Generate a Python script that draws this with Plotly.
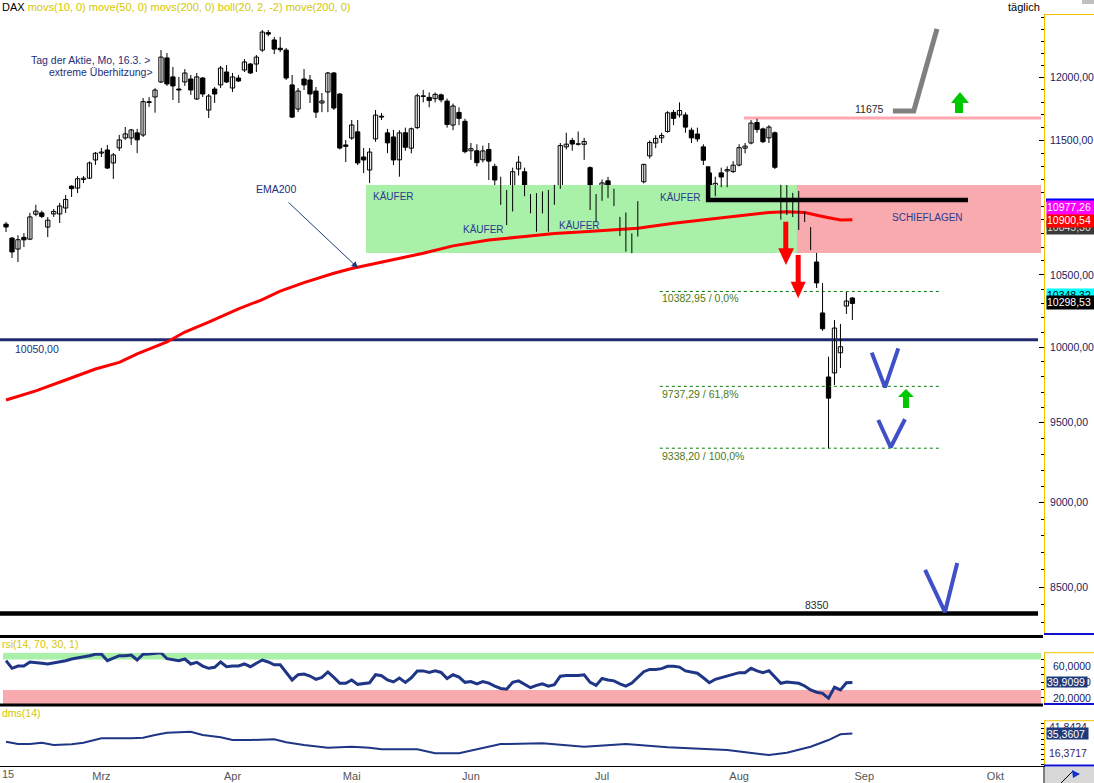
import math
import pandas as pd
import plotly.graph_objects as go

W, H = 1094, 783

# ---------------- data ----------------
HOLIDAYS = {"2015-04-03", "2015-04-06", "2015-05-01"}
calendar = [d.strftime("%Y-%m-%d") for d in pd.bdate_range("2015-02-06", "2015-10-30")
            if d.strftime("%Y-%m-%d") not in HOLIDAYS]

open_ = [10867, 10765, 10685, 10770, 10757, 10940, 10950, 10845, 10942, 10942, 10986, 11150, 11135, 11200, 11210, 11349,
         11402, 11426, 11326, 11442, 11519, 11519, 11559, 11542, 11805, 11843, 11964, 12160, 12005, 11907, 11964, 11988,
         11827, 11996, 11739, 11907, 11940, 12045, 11915, 11996, 12061, 12110, 12110, 12225, 12370, 12309, 12240, 12225,
         11940, 11747, 11988, 11980, 11891, 11795, 11883, 12037, 11867, 11465, 11519, 11567, 11372, 11272, 11512, 11690,
         11559, 11527, 11350, 11560, 11440, 11600, 11850, 11840, 11830, 11860, 11810, 11620, 11720, 11650, 11420, 11420,
         11350, 11430, 11300, 11136, 11030, 10981, 11280, 11259, 11053, 10921, 11074, 10946, 11110, 11142, 11450, 11500,
         11470, 11470, 11290, 11063, 11063, 11190, 11090, 10824, 10921, 10720, 10800, 11183, 11380, 11480, 11520, 11570,
         11720, 11700, 11700, 11580, 11550, 11450, 11250, 11131, 11250, 11265, 11260, 11310, 11440, 11480, 11640, 11590,
         11520, 11560, 11151, 11099, 11008, 11031, 10925, 10824, 10592, 10233, 9799, 9826, 9961, 10281, 10337]
high = [10882, 10772, 10786, 10801, 10950, 11010, 10966, 10919, 10979, 11024, 11083, 11157, 11225, 11225, 11338, 11410,
        11441, 11465, 11403, 11543, 11605, 11590, 11590, 11835, 11842, 11914, 12225, 12201, 12086, 12005, 12069, 12021,
        12037, 12005, 11867, 11923, 12094, 12102, 12037, 12021, 12151, 12118, 12184, 12392, 12392, 12334, 12334, 12242,
        12021, 11915, 12069, 12021, 11923, 11875, 12045, 12045, 11875, 11504, 11660, 11660, 11441, 11441, 11739, 11715,
        11590, 11582, 11580, 11600, 11600, 11870, 11900, 11880, 11880, 11870, 11830, 11790, 11760, 11670, 11480, 11470,
        11460, 11480, 11320, 11221, 11121, 11290, 11380, 11290, 11090, 11097, 11110, 11121, 11160, 11480, 11560, 11520,
        11570, 11520, 11300, 11090, 11200, 11220, 11130, 10920, 10953, 10800, 11037, 11320, 11500, 11540, 11560, 11730,
        11740, 11800, 11720, 11600, 11600, 11470, 11260, 11221, 11290, 11300, 11340, 11470, 11480, 11660, 11670, 11600,
        11620, 11570, 11160, 11158, 11099, 11113, 10960, 10845, 10657, 10443, 9935, 10184, 10157, 10379, 10344]
low = [10809, 10621, 10592, 10700, 10750, 10925, 10911, 10772, 10920, 10875, 10949, 11068, 11098, 11173, 11205, 11311,
       11372, 11280, 11204, 11418, 11504, 11465, 11402, 11527, 11764, 11718, 11955, 11932, 11819, 11795, 11932, 11860,
       11819, 11843, 11676, 11795, 11915, 11956, 11883, 11964, 12045, 12029, 12045, 12210, 12340, 12192, 12208, 11980,
       11676, 11722, 11899, 11795, 11676, 11722, 11722, 11739, 11430, 11333, 11504, 11310, 11249, 11173, 11489, 11660,
       11402, 11310, 11221, 11420, 11400, 11590, 11800, 11760, 11800, 11800, 11600, 11580, 11620, 11400, 11350, 11300,
       11330, 11196, 11158, 11010, 10860, 10960, 11230, 11074, 10947, 10811, 10946, 10811, 11010, 11130, 11430, 11420,
       11460, 11350, 10971, 10880, 11040, 11060, 11000, 10780, 10666, 10655, 10776, 11170, 11360, 11440, 11480, 11560,
       11620, 11680, 11560, 11480, 11490, 11310, 11040, 11074, 11142, 11142, 11250, 11300, 11400, 11470, 11560, 11480,
       11480, 11280, 10900, 10934, 10919, 10824, 10882, 10678, 10407, 10110, 9338, 9746, 9859, 10226, 10184]
close = [10846, 10664, 10753, 10752, 10920, 10963, 10924, 10896, 10961, 11001, 11050, 11131, 11206, 11210, 11326, 11401,
         11410, 11287, 11388, 11504, 11551, 11582, 11505, 11806, 11799, 11899, 12167, 11948, 11932, 11899, 12037, 11899,
         12005, 11867, 11851, 11867, 12077, 11964, 12005, 11972, 12127, 12037, 12167, 12375, 12358, 12233, 12228, 11996,
         11683, 11891, 11940, 11867, 11722, 11811, 12037, 11755, 11441, 11454, 11621, 11326, 11349, 11410, 11699, 11683,
         11481, 11349, 11559, 11447, 11591, 11853, 11848, 11815, 11864, 11820, 11625, 11771, 11673, 11413, 11436, 11328,
         11419, 11340, 11196, 11074, 11017, 11259, 11332, 11136, 10994, 11046, 10988, 11097, 11040, 11460, 11471, 11472,
         11473, 11492, 11083, 10912, 11174, 11106, 11075, 10885, 10678, 10751, 10991, 11315, 11484, 11516, 11539, 11717,
         11673, 11735, 11604, 11520, 11512, 11347, 11057, 11171, 11219, 11275, 11309, 11444, 11456, 11636, 11585, 11490,
         11604, 11293, 10934, 11023, 10993, 10949, 10915, 10693, 10443, 10124, 9660, 10129, 10002, 10316, 10299]
dates = calendar[:len(close)]

month_starts = ["2015-03-02", "2015-04-01", "2015-05-04", "2015-06-01",
                "2015-07-01", "2015-08-03", "2015-09-01", "2015-10-01"]
month_labels = ["Mrz", "Apr", "Mai", "Jun", "Jul", "Aug", "Sep", "Okt"]

# EMA200 read at selected trading days (index into dates)
ema_day = [0, 5, 10, 15, 19, 22, 27, 30, 34, 39, 43, 46, 50, 55, 58, 62, 66, 70, 75, 81, 87, 92, 97, 103,
           106, 112, 118, 123, 128, 131, 134, 137, 140, 142]
ema200 = [9648, 9707, 9779, 9852, 9896, 9953, 10034, 10102, 10169, 10262, 10326, 10385, 10445, 10512, 10546,
          10582, 10618, 10655, 10708, 10751, 10776, 10798, 10811, 10829, 10836, 10873, 10902, 10928, 10953,
          10958, 10952, 10923, 10897, 10900]

rsi14 = [68.4, 58.4, 61.4, 61.4, 66.7, 66.3, 65.0, 64.1, 65.4, 66.7, 68.4, 70.6, 71.9, 72.9, 75.0, 76.8,
         77.2, 68.4, 71.5, 75.0, 75.0, 75.9, 69.3, 76.8, 77.2, 78.1, 78.9, 71.0, 69.3, 68.4, 70.6, 64.1,
         66.3, 61.4, 58.4, 59.7, 66.7, 60.5,
         61.4, 61.4, 64.1, 60.5, 65.0, 69.3, 66.7, 63.1, 63.1, 53.6, 43.1, 50.0, 51.0, 48.3, 44.0, 46.6,
         53.6, 46.6, 38.8, 38.8,
         43.1, 37.4, 38.8, 39.5, 50.0, 48.7, 43.1, 40.5, 45.7, 40, 46, 55, 55, 53, 55, 53, 45, 50, 47, 40,
         41, 38, 41, 39, 35, 32, 31, 40, 42, 38, 33, 36, 38, 35, 37, 48, 49, 49, 49, 50, 40, 36,
         45, 43, 42, 38, 35, 39, 47, 54, 57, 57, 58, 61, 61, 60, 55, 53, 52, 46, 39.5, 44, 46, 48, 50,
         52.7, 52.7, 58.4, 55, 52.7, 55.3, 47, 38.8, 40.5, 39.5, 38.8, 35.2, 30, 27, 25.6, 19.1, 33.5, 30,
         39.5, 39.9]

dms_day = [0, 2, 4, 6, 8, 11, 13, 15, 16, 21, 23, 25, 27, 31, 33, 36, 38, 41, 45, 47, 50, 54, 58, 61, 63,
           66, 69, 72, 76, 83, 90, 97, 104, 111, 121, 128, 131, 135, 138, 140, 142]
dms14 = [27.4, 25.1, 25.1, 26.4, 24.2, 24.9, 26.4, 29.7, 30.7, 30.7, 31.3, 33.9, 36.2, 37.1, 33.9, 31.7,
         29.0, 29.0, 29.7, 26.8, 24.2, 21.5, 22.5, 21.5, 20.0, 20.0, 20.0, 16.1, 16.1, 25.1, 25.8, 22.5,
         25.1, 21.9, 19.3, 14.4, 16.7, 22.5, 29.0, 34.6, 35.36]

price_ticks = [8500, 9000, 9500, 10000, 10500, 11000, 11500, 12000]
# the 11000 label is hidden behind the value tags in the original
price_tick_text = ["8500,00", "9000,00", "9500,00", "10000,00", "10500,00", "", "11500,00", "12000,00"]
minor_price_ticks = list(range(8300, 12600, 100))

level_support = 10050
level_bottom = 8350
level_target = 11675
fib_levels = [10382.95, 9737.29, 9338.20]
fib_text = ["10382,95 / 0,0%", "9737,29 / 61,8%", "9338,20 / 100,0%"]

# ---------------- helpers ----------------
pos = {d: i for i, d in enumerate(calendar)}
xi = [pos[d] for d in dates]
month_pos = [pos[d] for d in month_starts]

X0, X1 = -1.013, 174.155          # visible index range
YMIN, YMAX = 3.915668, 4.097848   # log10 price range

NAVY = "#1e2e78"
YEL = "#d6c600"

fig = go.Figure()


def line(xs, ys, color, width, dash=None, yaxis="y", shape="linear"):
    fig.add_trace(go.Scatter(x=xs, y=ys, mode="lines", yaxis=yaxis, hoverinfo="skip",
                             line=dict(color=color, width=width, dash=dash, shape=shape)))


def poly(xs, ys, color):
    fig.add_trace(go.Scatter(x=xs + [xs[0]], y=ys + [ys[0]], mode="lines", fill="toself",
                             fillcolor=color, line=dict(width=0, color=color), hoverinfo="skip"))


# zones
poly([60.40, 132.71, 132.71, 60.40], [10657, 10657, 11158, 11158], "#a9f0a9")
poly([132.71, 173.65, 173.65, 132.71], [10657, 10657, 11158, 11158], "#f9aaae")

# horizontal levels
line([X0, 173.15], [level_support, level_support], "#1f2a70", 3)
line([123.8, 173.65], [level_target, level_target], "#ffa8b0", 3)
line([X0, 173.15], [level_bottom, level_bottom], "#000000", 4.5)
for lv in fib_levels:
    line([109.7, 157.0], [lv, lv], "#0a7a0a", 1, dash="dot")

# EMA200
line([xi[k] for k in ema_day], ema200, "#ff0000", 3)

# candles: wicks
wx, wy = [], []
for x, h, l in zip(xi, high, low):
    wx += [x, x, None]
    wy += [l, h, None]
line(wx, wy, "#000000", 1)

# candles: bodies
ux, ub, uh, dx, db, dh = [], [], [], [], [], []
for x, o, c in zip(xi, open_, close):
    if c >= o:
        ux.append(x); ub.append(o); uh.append(max(c - o, 4))
    else:
        dx.append(x); db.append(c); dh.append(max(o - c, 4))
fig.add_trace(go.Bar(x=ux, y=uh, base=ub, width=0.72, hoverinfo="skip",
                     marker=dict(color="white", line=dict(color="black", width=1))))
fig.add_trace(go.Bar(x=dx, y=dh, base=db, width=0.72, hoverinfo="skip",
                     marker=dict(color="black", line=dict(color="black", width=1))))

# black bracket and grey target path
line([117.8, 117.8, 161.4], [11300, 11045, 11045], "#000000", 4.5)
line([148.8, 152.3, 156.2], [11731, 11731, 12401], "#808080", 5)

# red down arrows
poly([130.41, 131.25, 131.25, 132.20, 130.86, 129.57, 130.41],
     [10885, 10885, 10691, 10691, 10570, 10691, 10691], "#ff0000")
poly([132.49, 133.33, 133.33, 134.17, 132.91, 131.65, 132.49],
     [10642, 10642, 10452, 10452, 10335, 10452, 10452], "#ff0000")
# green up arrows
poly([160.06, 161.57, 160.56, 160.56, 159.22, 159.22, 158.55],
     [11883, 11795, 11795, 11715, 11715, 11795, 11795], "#00c800")
poly([150.99, 152.33, 151.50, 151.50, 150.49, 150.49, 149.65],
     [9720, 9667, 9667, 9596, 9596, 9667, 9667], "#00c800")
# blue V marks
VBLUE = "#4050c8"
line([145.25, 147.48, 149.71], [9962, 9731, 9991], VBLUE, 4)
line([146.35, 148.43, 150.83], [9518, 9344, 9523], VBLUE, 4)
line([154.2, 157.54, 159.6], [8600, 8358, 8640], VBLUE, 4)

# RSI and DMS
line(xi, rsi14, "#1f3585", 3, yaxis="y2")
line([xi[k] for k in dms_day], dms14, "#1f3585", 2, yaxis="y3")


# ---------------- annotations ----------------
def P(px, py):
    return px / W, 1 - py / H


anns = []


def text(t, px, py, xanchor="left", color=NAVY, size=10.5, **kw):
    x, y = P(px, py)
    d = dict(x=x, y=y, xref="paper", yref="paper", text=t, showarrow=False, xanchor=xanchor,
             yanchor="middle", font=dict(color=color, size=size,
                                         family="Liberation Sans, Arial, sans-serif"))
    d.update(kw)
    anns.append(d)


def tag(t, py, bg, fg, px=1046, w=48, h=12.5, size=10.5):
    x, y = P(px, py)
    anns.append(dict(x=x, y=y, xref="paper", yref="paper", text=t, showarrow=False, xanchor="left",
                     yanchor="middle", width=w, height=h, align="left", bgcolor=bg, borderpad=0,
                     font=dict(color=fg, size=size, family="Liberation Sans, Arial, sans-serif")))


text('<span style="color:#000000">DAX</span> movs(10, 0) move(50, 0) movs(200, 0) boll(20, 2, -2) move(200, 0)',
     0, 7, color=YEL, size=11)
text("täglich", 1042, 7, xanchor="right", color="#000000", size=11)
text("Tag der Aktie, Mo, 16.3. >", 152, 60, xanchor="right")
text("extreme Überhitzung>", 155, 72, xanchor="right")
text("EMA200", 275.5, 189, xanchor="center")
for kx, ky in [(370.7, 196), (460.7, 229.3), (556.7, 225), (658.3, 197.3)]:
    text("KÄUFER", kx, ky, color="#2b3990", size=10)
text("SCHIEFLAGEN", 890, 217.7, color="#2b3990", size=10)
text("11675", 869.5, 109, xanchor="center", color="#2a2a2a")
text("8350", 816.5, 605, xanchor="center", color="#2a2a2a")
text("10050,00", 12.5, 348.5, color="#22307a")
for t, py in zip(fib_text, [298.3, 394.3, 455.7]):
    text(t, 660, py, color="#4d7a12")
text("rsi(14, 70, 30, 1)", 0, 644, color=YEL)
text("dms(14)", 0, 713, color=YEL)
text("15", 0, 774, xanchor="left", color="#555555", size=11)

# EMA arrow
hx, hy = P(358, 268)
anns.append(dict(x=hx, y=hy, xref="paper", yref="paper", ax=-71, ay=-67, text="", showarrow=True,
                 arrowhead=2, arrowsize=1.3, arrowwidth=1, arrowcolor="#1f3a7a", standoff=0))

# right axis value tags
tag("10845,30", 227.5, "#3a3a3a", "#dddddd")
tag("10900,54", 220.5, "#ff0000", "#ffffff")
tag("10977,26", 208, "#ff00ff", "#ffffff")
tag("10348,32", 296, "#00ffff", "#000000")
tag("10298,53", 302.5, "#000000", "#ffffff")

# RSI axis labels
text("60,0000", 1093, 666, xanchor="right", color="#1b1b5e")
text("40,0000", 1093, 682.4, xanchor="right", color="#1b1b5e")
text("20,0000", 1093, 697.6, xanchor="right", color="#1b1b5e")
tag("39,9099", 682.4, "#1f3a7a", "#ffffff", w=40, h=9.5)
# DMS axis labels
text("41,8424", 1047, 726.5, color="#1b1b5e")
tag("35,3607", 733.5, "#1f3a7a", "#ffffff", w=41, h=11)
text("16,3717", 1047, 753, color="#3a1b5e")

# ---------------- shapes ----------------
shapes = []


def pline(x0, y0, x1, y1, color, width):
    a0, b0 = P(x0, y0)
    a1, b1 = P(x1, y1)
    shapes.append(dict(type="line", xref="paper", yref="paper", x0=a0, y0=b0, x1=a1, y1=b1,
                       line=dict(color=color, width=width)))


def prect(x0, y0, x1, y1, color):
    a0, b0 = P(x0, y0)
    a1, b1 = P(x1, y1)
    shapes.append(dict(type="rect", xref="paper", yref="paper", x0=a0, y0=b0, x1=a1, y1=b1,
                       fillcolor=color, line=dict(width=0)))


# RSI bands
shapes.append(dict(type="rect", xref="x", yref="y2", x0=-0.51, x1=173.65, y0=70, y1=78.89,
                   fillcolor="#a9f0a9", line=dict(width=0), layer="below"))
shapes.append(dict(type="rect", xref="x", yref="y2", x0=-0.51, x1=173.65, y0=11.61, y1=30,
                   fillcolor="#f9aaae", line=dict(width=0), layer="below"))

pline(0, 636.5, 1043, 636.5, "#000000", 3)
pline(0, 705, 1043, 705, "#000000", 3)
for yt in (14.5, 652.7, 720.7):
    pline(1044, yt, 1094, yt, "#f2c200", 1)
for yb in (634, 704, 765.5):
    pline(1044, yb, 1094, yb, "#1010d0", 2)
prect(1046, 198.5, 1094, 202, "#0000ff")
prect(1082, 0, 1094, 4, "#c0c0c0")
prect(1045, 767, 1094, 783, "#d8d8d8")
pline(1044, 767, 1044, 783, "#000000", 1)
pline(1061, 783, 1073, 771, "#000000", 1)
shapes.append(dict(type="path", xref="paper", yref="paper",
                   path="M {} {} L {} {} L {} {} Z".format(*P(1072, 770), *P(1080, 774), *P(1073, 778)),
                   fillcolor="#1030d0", line=dict(width=0)))

fig.update_layout(
    width=W, height=H, autosize=False, margin=dict(l=0, r=0, t=0, b=0),
    paper_bgcolor="white", plot_bgcolor="white", showlegend=False, barmode="overlay",
    font=dict(family="Liberation Sans, Arial, sans-serif", size=11, color="#1b1b5e"),
    xaxis=dict(domain=[0, 1044 / W], range=[X0, X1], anchor="y3", showgrid=False, zeroline=False,
               showline=True, linecolor="black", linewidth=1, ticks="", tickmode="array",
               tickvals=month_pos, ticktext=month_labels, tickfont=dict(size=11, color="#555555")),
    yaxis=dict(domain=[1 - 634 / H, 1 - 14 / H], type="log", range=[YMIN, YMAX], side="right", anchor="x",
               showgrid=False, zeroline=False, showline=True, linecolor="#f2c200", linewidth=1,
               ticks="inside", ticklen=5, tickcolor="black", tickwidth=1, tickmode="array",
               tickvals=price_ticks, ticktext=price_tick_text, ticklabelstandoff=3,
               tickfont=dict(size=10.5, color="#1b1b5e"),
               minor=dict(tickmode="array", tickvals=minor_price_ticks, ticks="inside", ticklen=3,
                          tickcolor="black", showgrid=False)),
    yaxis2=dict(domain=[1 - 704 / H, 1 - 652.7 / H], range=[11.61, 78.89], side="right", anchor="x",
                showgrid=False, zeroline=False, showline=True, linecolor="#f2c200", linewidth=1,
                ticks="inside", ticklen=3, tickcolor="black", tickmode="array",
                tickvals=[20, 30, 40, 50, 60, 70], showticklabels=False),
    yaxis3=dict(domain=[1 - 766 / H, 1 - 720.7 / H], range=[3.70, 47.85], side="right", anchor="x",
                showgrid=False, zeroline=False, showline=True, linecolor="#f2c200", linewidth=1,
                ticks="inside", ticklen=3, tickcolor="black", tickmode="array",
                tickvals=[5, 10, 15, 20, 25, 30, 35, 40, 45], showticklabels=False),
    annotations=anns, shapes=shapes,
)

fig.write_html("out.html", config={"displayModeBar": False},
               post_script="document.body.style.margin='0px'; document.body.style.overflow='hidden';")
